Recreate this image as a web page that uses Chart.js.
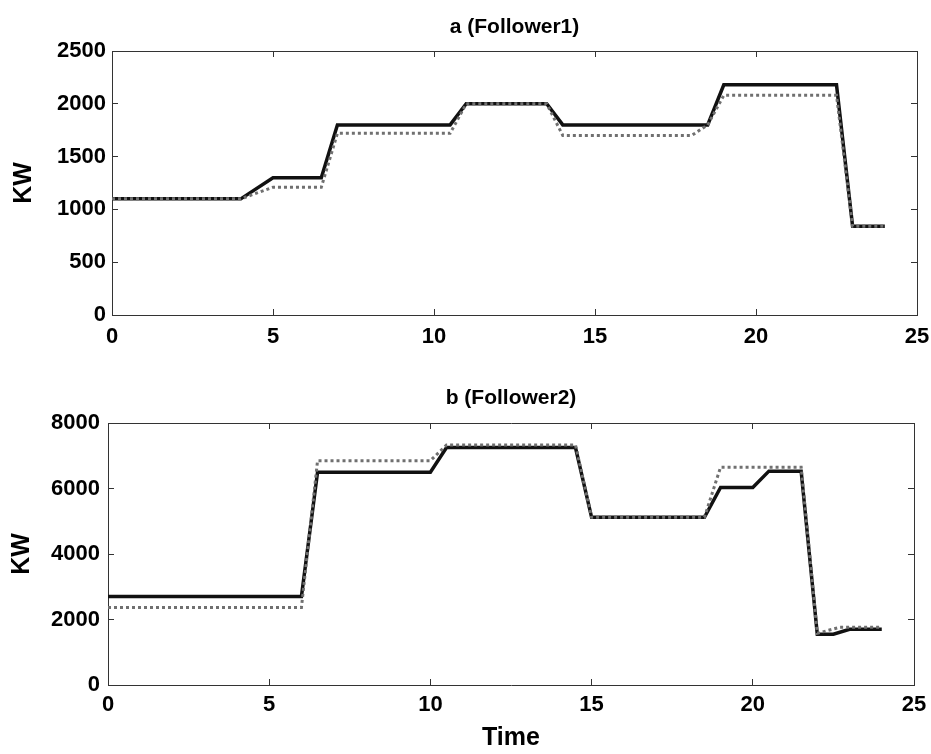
<!DOCTYPE html>
<html>
<head>
<meta charset="utf-8">
<script src="https://cdn.jsdelivr.net/npm/chart.js@4.4.1/dist/chart.umd.min.js"></script>
<style>
  body { margin: 0; background: #fff; }
  #wrap { position: relative; width: 931px; height: 754px; }
  canvas { position: absolute; left: 0; }
  #chartA { top: 0; }
  #chartB { top: 360px; }
</style>
</head>
<body>
<div id="wrap">
  <canvas id="chartA" width="931" height="360"></canvas>
  <canvas id="chartB" width="931" height="394"></canvas>
</div>
<script>
// a (Follower1) - solid line
const follower1Time = [0, 4, 5, 6.5, 7, 10.5, 11, 13.5, 14, 18.5, 19, 22.5, 23, 24];
const follower1Solid = [1100, 1100, 1300, 1300, 1800, 1800, 2000, 2000, 1800, 1800, 2180, 2180, 840, 840];
// a (Follower1) - dotted line
const follower1DotTime = [0, 4, 5, 6.5, 7, 10.5, 11, 13.5, 14, 18, 18.5, 19, 22.5, 23, 24];
const follower1Dotted = [1100, 1100, 1210, 1210, 1720, 1720, 2000, 2000, 1700, 1700, 1800, 2080, 2080, 840, 840];

// b (Follower2) - solid line
const follower2Time = [0, 6, 6.5, 10, 10.5, 14.5, 15, 18.5, 19, 20, 20.5, 21.5, 22, 22.5, 23, 24];
const follower2Solid = [2700, 2700, 6500, 6500, 7250, 7250, 5120, 5120, 6030, 6030, 6530, 6530, 1550, 1550, 1700, 1700];
// b (Follower2) - dotted line
const follower2DotTime = [0, 6, 6.5, 10, 10.5, 14.5, 15, 18.5, 19, 21.5, 22, 22.7, 24];
const follower2Dotted = [2370, 2370, 6850, 6850, 7330, 7330, 5120, 5120, 6650, 6650, 1580, 1760, 1760];

const xTicks = [0, 5, 10, 15, 20, 25];

const fontFamily = "'Liberation Sans', Arial, Helvetica, sans-serif";
const tickFont = { family: fontFamily, size: 22, weight: 'bold' };
const axisTitleFont = { family: fontFamily, size: 25, weight: 'bold' };
const panelTitleFont = { family: fontFamily, size: 21, weight: 'bold' };
const frameColor = '#333';

function toPoints(times, values) {
    return times.map((t, i) => ({ x: t, y: values[i] }));
}

function frameGrid() {
    // matlab style: short ticks pointing into the plot, no grid lines
    return { drawOnChartArea: false, drawTicks: true, tickLength: -6, color: frameColor, lineWidth: 1 };
}

function fixSize(prop, size) {
    return s => {
        s[prop] = size;
        // keep edge labels from pushing the plot area inwards
        s.paddingLeft = 0;
        s.paddingRight = 0;
        s.paddingTop = 0;
        s.paddingBottom = 0;
    };
}

function createPanel(canvasId, p) {
    const ctx = document.getElementById(canvasId).getContext('2d');

    new Chart(ctx, {
        type: 'line',
        data: {
            datasets: [
                {
                    data: toPoints(p.dotTime, p.dotted),
                    borderColor: '#707070',
                    borderWidth: 3,
                    borderDash: [3, 3],
                    pointRadius: 0,
                    tension: 0
                },
                {
                    data: toPoints(p.time, p.solid),
                    borderColor: '#111',
                    borderWidth: 3.5,
                    pointRadius: 0,
                    tension: 0
                }
            ]
        },
        options: {
            responsive: false,
            animation: false,
            layout: { padding: 0 },
            plugins: {
                legend: { display: false },
                tooltip: { enabled: false }
            },
            scales: {
                x: {
                    type: 'linear',
                    position: 'bottom',
                    min: 0,
                    max: 25,
                    afterFit: fixSize('height', p.bottomHeight),
                    afterBuildTicks: s => { s.ticks = xTicks.map(v => ({ value: v })); },
                    ticks: { color: '#000', font: tickFont, padding: p.xTickPad, maxRotation: 0 },
                    grid: frameGrid(),
                    border: { color: frameColor, width: 1 },
                    title: {
                        display: !!p.xTitle,
                        text: p.xTitle || '',
                        color: '#000',
                        font: axisTitleFont,
                        padding: { top: 0, bottom: 1 }
                    }
                },
                xTop: {
                    type: 'linear',
                    position: 'top',
                    min: 0,
                    max: 25,
                    afterFit: fixSize('height', p.topHeight),
                    afterBuildTicks: s => { s.ticks = xTicks.map(v => ({ value: v })); },
                    ticks: { display: false },
                    grid: frameGrid(),
                    border: { color: frameColor, width: 1 },
                    title: {
                        display: true,
                        text: p.title,
                        color: '#000',
                        font: panelTitleFont,
                        padding: { top: p.titlePad, bottom: 0 }
                    }
                },
                y: {
                    position: 'left',
                    min: 0,
                    max: p.yMax,
                    afterFit: fixSize('width', p.leftWidth),
                    ticks: {
                        stepSize: p.yStep,
                        color: '#000',
                        font: tickFont,
                        padding: p.yTickPad,
                        callback: v => String(v)
                    },
                    grid: frameGrid(),
                    border: { color: frameColor, width: 1 },
                    title: {
                        display: true,
                        text: 'KW',
                        color: '#000',
                        font: axisTitleFont,
                        padding: { top: p.yTitlePad, bottom: 0 }
                    }
                },
                yRight: {
                    position: 'right',
                    min: 0,
                    max: p.yMax,
                    afterFit: fixSize('width', p.rightWidth),
                    ticks: { stepSize: p.yStep, display: false },
                    grid: frameGrid(),
                    border: { color: frameColor, width: 1 }
                }
            }
        }
    });
}

createPanel('chartA', {
    title: 'a (Follower1)',
    time: follower1Time,
    solid: follower1Solid,
    dotTime: follower1DotTime,
    dotted: follower1Dotted,
    yMax: 2500,
    yStep: 500,
    leftWidth: 112,
    rightWidth: 14,
    topHeight: 51,
    bottomHeight: 45,
    titlePad: 15,
    xTickPad: 15,
    yTickPad: 12,
    yTitlePad: 9
});

createPanel('chartB', {
    title: 'b (Follower2)',
    time: follower2Time,
    solid: follower2Solid,
    dotTime: follower2DotTime,
    dotted: follower2Dotted,
    yMax: 8000,
    yStep: 2000,
    leftWidth: 108,
    rightWidth: 17,
    topHeight: 63,
    bottomHeight: 69,
    titlePad: 26,
    xTickPad: 13,
    yTickPad: 14,
    yTitlePad: 7,
    xTitle: 'Time'
});
</script>
</body>
</html>
